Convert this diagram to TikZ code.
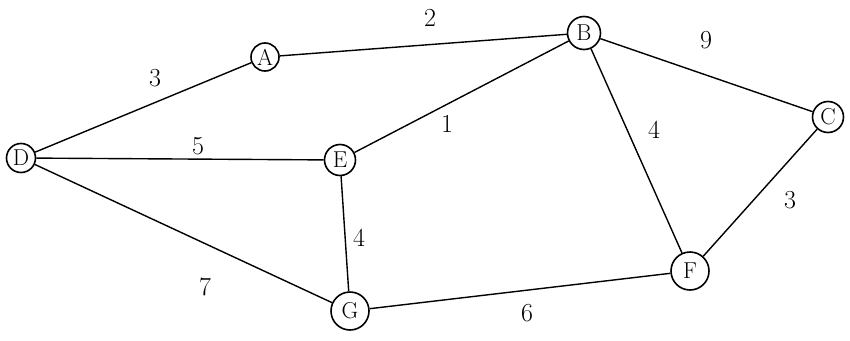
\documentclass[tikz,border=0pt]{standalone}
\begin{document}
\begin{tikzpicture}[x=1pt,y=-1pt,
  vtx/.style={circle,draw,line width=1.6pt,inner sep=0pt,minimum size=#1,font=\fontsize{23}{25}\selectfont},
  vtx/.default=28pt,
  edge/.style={line width=1.4pt},
  wt/.style={font=\fontsize{26}{28}\selectfont}]
\useasboundingbox (0,0) rectangle (850,340);
\node[vtx=28pt] (A) at (265,57) {A};
\node[vtx=33pt] (B) at (584,33) {B};
\node[vtx=31pt] (C) at (828,117) {C};
\node[vtx=29pt] (D) at (21,158) {D};
\node[vtx=31pt] (E) at (340,160) {E};
\node[vtx=38pt] (F) at (690,271) {F};
\node[vtx=38pt] (G) at (350,311) {G};
\draw[edge] (D) -- (A);
\draw[edge] (A) -- (B);
\draw[edge] (B) -- (C);
\draw[edge] (E) -- (B);
\draw[edge] (D) -- (E);
\draw[edge] (B) -- (F);
\draw[edge] (C) -- (F);
\draw[edge] (E) -- (G);
\draw[edge] (D) -- (G);
\draw[edge] (G) -- (F);
\node[wt] (w1) at (155,78) {3};
\node[wt] (w2) at (430,18) {2};
\node[wt] (w3) at (706,40) {9};
\node[wt] (w4) at (447,124) {1};
\node[wt] (w5) at (198,146) {5};
\node[wt] (w6) at (654,130) {4};
\node[wt] (w7) at (790,200) {3};
\node[wt] (w8) at (359,238) {4};
\node[wt] (w9) at (205,287) {7};
\node[wt] (w10) at (527,313) {6};
\end{tikzpicture}
\end{document}
